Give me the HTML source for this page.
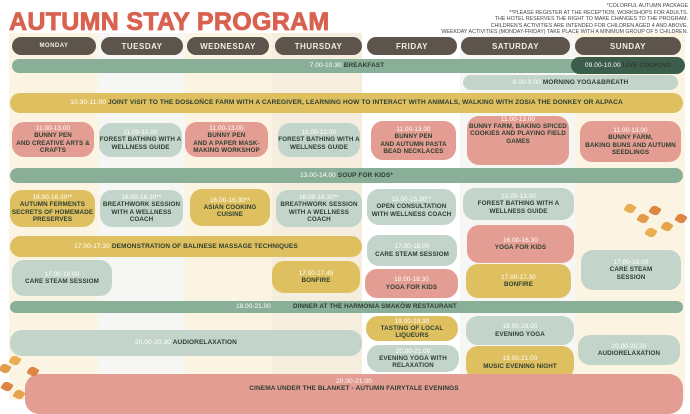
<!DOCTYPE html>
<html><head><meta charset="utf-8"><style>
*{margin:0;padding:0;box-sizing:border-box}
body{width:690px;height:400px;overflow:hidden;background:#fff;position:relative;font-family:"Liberation Sans",sans-serif;font-weight:bold}
.c{position:absolute;top:33px;height:367px}
.b{position:absolute;display:flex;flex-direction:column;align-items:center;justify-content:center;text-align:center;color:#2d3e30;font-size:6.3px;line-height:1.15;border-radius:12px;letter-spacing:.1px}
.b i{font-style:normal;color:#fff;font-weight:normal}
.p{background:#e49d92}.s{background:#c3d5cb}.g{background:#8aaf98}.y{background:#dfc060}
.d{position:absolute;background:#5d544b;color:#f2ece4;font-size:8px;display:flex;align-items:center;justify-content:center;border-radius:10px;top:37px;height:18px;letter-spacing:.5px}
.row{flex-direction:row}
.leaf{position:absolute;width:10px;height:9px;background:#e0913a;border-radius:50% 10% 50% 10%;transform:rotate(30deg);opacity:.9}
</style></head><body>
<div class="c" style="left:9px;width:89px;background:#fbf4e3"></div>
<div class="c" style="left:98px;width:87px;background:#f6f6f4"></div>
<div class="c" style="left:185px;width:87px;background:#fbf4e3"></div>
<div class="c" style="left:272px;width:90px;background:#f5eedf"></div>
<div class="c" style="left:362px;width:98px;background:#fff"></div>
<div class="c" style="left:460px;width:115px;background:#f6f6f4"></div>
<div class="c" style="left:575px;width:110px;background:#fbf4e3"></div>

<div style="position:absolute;left:9px;top:8px;font-size:25px;color:#d9614f;letter-spacing:.3px;-webkit-text-stroke:0.8px #d9614f">AUTUMN STAY PROGRAM</div>
<div style="position:absolute;right:2px;top:3px;text-align:right;font-size:5.3px;line-height:6.5px;color:#444;font-weight:normal">*COLORFUL AUTUMN PACKAGE<br>**PLEASE REGISTER AT THE RECEPTION; WORKSHOPS FOR ADULTS.<br>THE HOTEL RESERVES THE RIGHT TO MAKE CHANGES TO THE PROGRAM.<br>CHILDREN'S ACTIVITIES ARE INTENDED FOR CHILDREN AGED 4 AND ABOVE.<br>WEEKDAY ACTIVITIES (MONDAY-FRIDAY) TAKE PLACE WITH A MINIMUM GROUP OF 5 CHILDREN.</div>

<div class="d" style="left:12px;width:84px;font-size:6px">MONDAY</div>
<div class="d" style="left:101px;width:82px">TUESDAY</div>
<div class="d" style="left:187px;width:82px">WEDNESDAY</div>
<div class="d" style="left:275px;width:87px">THURSDAY</div>
<div class="d" style="left:367px;width:90px">FRIDAY</div>
<div class="d" style="left:461px;width:109px">SATURDAY</div>
<div class="d" style="left:575px;width:106px">SUNDAY</div>

<div class="b g row" style="left:12px;top:59px;width:670px;height:14px;font-size:6.5px"><i>7.00-10.30&nbsp;</i>BREAKFAST</div>
<div class="b row" style="left:571px;top:57px;width:114px;height:17px;background:#3b5e4c;font-size:6.5px"><i>09.00-10.00&nbsp;</i>LIVE COOKING</div>
<div class="b s row" style="left:463px;top:75px;width:215px;height:15px;font-size:6.5px"><i>8.00-9.00&nbsp;</i>MORNING YOGA&amp;BREATH</div>
<div class="b y row" style="left:10px;top:93px;width:673px;height:20px;font-size:6.6px"><i>10.30-11.00&nbsp;</i>JOINT VISIT TO THE DOSŁOŃCE FARM WITH A CAREGIVER, LEARNING HOW TO INTERACT WITH ANIMALS, WALKING WITH ZOSIA THE DONKEY OR ALPACA</div>

<div class="b p" style="left:12px;top:122px;width:82px;height:35px"><i>11.00-13.00</i>BUNNY PEN<br>AND CREATIVE ARTS &amp;<br>CRAFTS</div>
<div class="b s" style="left:99px;top:123px;width:83px;height:34px"><i>11.00-12.00</i>FOREST BATHING WITH A<br>WELLNESS GUIDE</div>
<div class="b p" style="left:185px;top:122px;width:83px;height:35px"><i>11.00-13.00</i>BUNNY PEN<br>AND A PAPER MASK-<br>MAKING WORKSHOP</div>
<div class="b s" style="left:278px;top:123px;width:82px;height:34px"><i>11.00-12.00</i>FOREST BATHING WITH A<br>WELLNESS GUIDE</div>
<div class="b p" style="left:371px;top:121px;width:85px;height:39px"><i>11.00-13.00</i>BUNNY PEN<br>AND AUTUMN PASTA<br>BEAD NECKLACES</div>
<div class="b p" style="left:467px;top:116px;width:102px;height:49px;justify-content:flex-start"><i>11.00-13.00</i>BUNNY FARM, BAKING SPICED<br>COOKIES AND PLAYING FIELD<br>GAMES</div>
<div class="b p" style="left:580px;top:121px;width:101px;height:41px"><i>11.00-13.00</i>BUNNY FARM,<br>BAKING BUNS AND AUTUMN<br>SEEDLINGS</div>

<div class="b g row" style="left:10px;top:168px;width:673px;height:15px;font-size:6.5px"><i>13.00-14.00&nbsp;</i>SOUP FOR KIDS*</div>

<div class="b y" style="left:10px;top:190px;width:85px;height:37px"><i>16.00-16.30**</i>AUTUMN FERMENTS<br>SECRETS OF HOMEMADE<br>PRESERVES</div>
<div class="b s" style="left:100px;top:190px;width:83px;height:37px"><i>16.00-16.30**</i>BREATHWORK SESSION<br>WITH A WELLNESS<br>COACH</div>
<div class="b y" style="left:190px;top:189px;width:80px;height:37px"><i>16.00-16.30**</i>ASIAN COOKING<br>CUISINE</div>
<div class="b s" style="left:276px;top:190px;width:86px;height:37px"><i>16.00-16.30**</i>BREATHWORK SESSION<br>WITH A WELLNESS<br>COACH</div>
<div class="b s" style="left:367px;top:189px;width:89px;height:36px"><i>15.00-15.30**</i>OPEN CONSULTATION<br>WITH WELLNESS COACH</div>
<div class="b s" style="left:463px;top:188px;width:111px;height:32px"><i>12.00-13.00</i>FOREST BATHING WITH A<br>WELLNESS GUIDE</div>

<div class="b y row" style="left:10px;top:236px;width:352px;height:21px;font-size:6.5px"><i>17.00-17.30&nbsp;</i>DEMONSTRATION OF BALINESE MASSAGE TECHNIQUES</div>
<div class="b s" style="left:367px;top:235px;width:90px;height:31px"><i>17.00-18.00</i>CARE STEAM SESSIOM</div>
<div class="b p" style="left:467px;top:225px;width:107px;height:38px"><i>16.00-16.30</i>YOGA FOR KIDS</div>

<div class="b s" style="left:12px;top:260px;width:100px;height:36px"><i>17.00-18.00</i>CARE STEAM SESSIOM</div>
<div class="b y" style="left:272px;top:261px;width:88px;height:32px"><i>17.00-17.45</i>BONFIRE</div>
<div class="b p" style="left:365px;top:269px;width:93px;height:29px"><i>18.00-18.30</i>YOGA FOR KIDS</div>
<div class="b y" style="left:466px;top:264px;width:105px;height:34px"><i>17.00-17.30</i>BONFIRE</div>
<div class="b s" style="left:581px;top:250px;width:100px;height:40px"><i>17.00-18.00</i>CARE STEAM<br>SESSION</div>

<div class="b g row" style="left:10px;top:301px;width:673px;height:12px;font-size:6.3px"><i>18.00-21.00&nbsp;&nbsp;&nbsp;&nbsp;&nbsp;&nbsp;&nbsp;&nbsp;&nbsp;&nbsp;&nbsp;&nbsp;</i>DINNER AT THE HARMONIA SMAKÓW RESTAURANT</div>

<div class="b s row" style="left:10px;top:330px;width:352px;height:26px;font-size:6.5px"><i>20.00-20.30&nbsp;</i>AUDIORELAXATION</div>
<div class="b y" style="left:366px;top:316px;width:92px;height:25px"><i>19.00-19.30</i>TASTING OF LOCAL<br>LIQUEURS</div>
<div class="b s" style="left:367px;top:345px;width:92px;height:27px"><i>20.00-21.00</i>EVENING YOGA WITH<br>RELAXATION</div>
<div class="b s" style="left:466px;top:316px;width:108px;height:29px"><i>18.00-19.00</i>EVENING YOGA</div>
<div class="b y" style="left:466px;top:346px;width:108px;height:33px"><i>19.00-21.00</i>MUSIC EVENING NIGHT</div>
<div class="b s" style="left:578px;top:335px;width:102px;height:30px"><i>20.00-20.30</i>AUDIORELAXATION</div>

<div class="b p" style="left:25px;top:374px;width:658px;height:40px;justify-content:flex-start;padding-top:4px;font-size:6.5px;border-radius:14px"><i>20.00-21.00</i>CINEMA UNDER THE BLANKET - AUTUMN FAIRYTALE EVENINGS</div>

<div class="leaf" style="left:0;top:364px"></div><div class="leaf" style="left:10px;top:356px;background:#e8a540"></div><div class="leaf" style="left:28px;top:367px;background:#d87a33"></div><div class="leaf" style="left:2px;top:382px;background:#d9792f"></div><div class="leaf" style="left:14px;top:390px;background:#e39b3c"></div>
<div class="leaf" style="left:625px;top:204px;background:#e8a540"></div><div class="leaf" style="left:638px;top:214px"></div><div class="leaf" style="left:650px;top:206px;background:#d87a33"></div><div class="leaf" style="left:662px;top:222px;background:#e39b3c"></div><div class="leaf" style="left:676px;top:214px;background:#d9792f"></div><div class="leaf" style="left:646px;top:228px;background:#e8a540"></div>
</body></html>
